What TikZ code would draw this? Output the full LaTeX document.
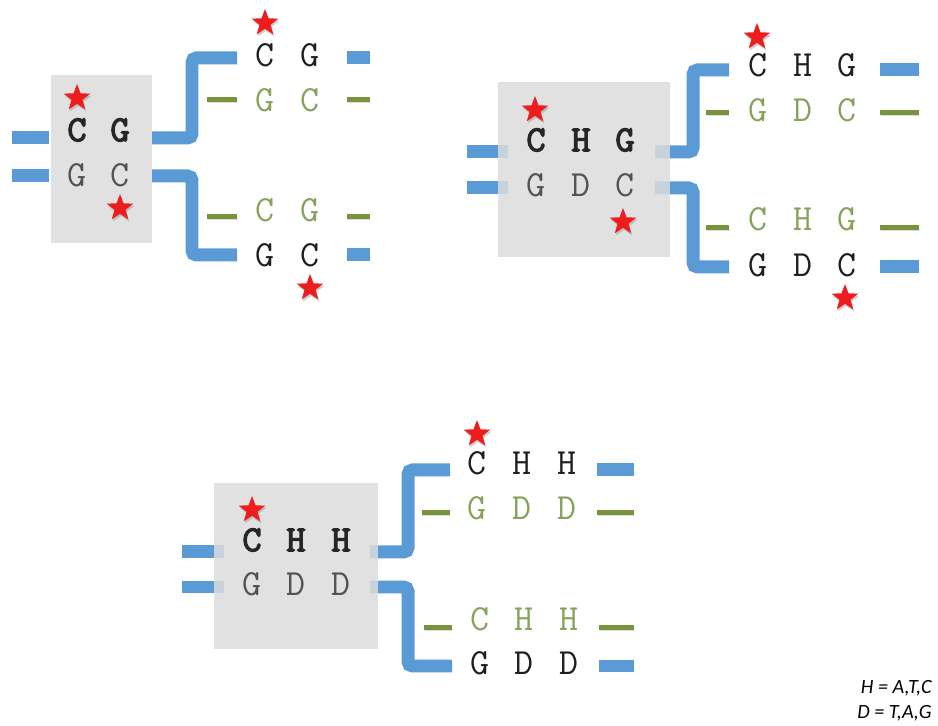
\documentclass[tikz,border=0pt]{standalone}
\usepackage{fontspec}
\newfontfamily\notefont{Carlito}
\newfontfamily\heavymono[FakeBold=3]{lmmono10-regular.otf}
\usepackage{tikz}
\usetikzlibrary{positioning}
\usetikzlibrary{shapes.geometric}
\usetikzlibrary{shadows}

\definecolor{barblue}{HTML}{5B9BD5}
\definecolor{bargreen}{HTML}{77933C}
\definecolor{txtgreen}{HTML}{86A35C}
\definecolor{boxgray}{HTML}{DCDCDC}
\definecolor{starred}{HTML}{EE1C1C}

\tikzset{
	base/.style={font=\ttfamily\fontsize{21}{21}\selectfont, text=black!88, inner sep=0pt},
	bold/.style={base, font=\heavymono\fontsize{21}{21}\selectfont, text=black!85},
	dim/.style={base, text=black!68},
	grn/.style={base, text=txtgreen},
	bluebar/.style={draw=barblue, line width=0.26cm, preaction={draw=black!14, transform canvas={shift={(0.4pt,-1.4pt)}}}},
	greenbar/.style={draw=bargreen, line width=0.1cm, preaction={draw=black!14, transform canvas={shift={(0.4pt,-1.2pt)}}}},
	graybox/.style={fill=boxgray, fill opacity=0.85, draw=none, inner sep=0pt},
	mark star/.style={star, star points=5, star point ratio=2.4, fill=starred, draw=none, minimum size=0.56cm, inner sep=0pt, drop shadow={shadow xshift=0.6pt, shadow yshift=-1.2pt, fill=black!40, opacity=0.5}},
	note/.style={font=\notefont\itshape\fontsize{11.5}{13}\selectfont, inner sep=0pt, anchor=east}
}

\begin{document}
\begin{tikzpicture}[x=0.02cm, y=-0.02cm]
				\useasboundingbox (0,0) rectangle (938,726);

				% CG
				\coordinate (p1l1) at (12,138);   \coordinate (p1l1e) at (49,138);
				\coordinate (p1l2) at (12,176);   \coordinate (p1l2e) at (49,176);
				\coordinate (p1r1) at (152,138);  \coordinate (p1k1) at (192,98);   \coordinate (p1e1) at (237,58);
				\coordinate (p1r2) at (152,176);  \coordinate (p1k2) at (192,215);  \coordinate (p1e2) at (237,255);
				\draw[bluebar] (p1l1) -- (p1l1e);
				\draw[bluebar] (p1l2) -- (p1l2e);
				\draw[bluebar, rounded corners=2.5pt] (p1r1) -| (p1k1) |- (p1e1);
				\draw[bluebar, rounded corners=2.5pt] (p1r2) -| (p1k2) |- (p1e2);
				\node[graybox, minimum width=2.02cm, minimum height=3.36cm] (box1) at (101.5,159) {};

				\node[bold] (p1a1) at (77,130) {C};
				\node[bold] (p1a2) at (120,130) {G};
				\node[dim] (p1b1) at (77,175) {G};
				\node[dim] (p1b2) at (120,175) {C};
				\node[base] (p1t1) at (265,55) {C};
				\node[base] (p1t2) at (310,55) {G};
				\node[grn] (p1g1) at (265,100) {G};
				\node[grn] (p1g2) at (310,100) {C};
				\node[grn] (p1h1) at (265,210) {C};
				\node[grn] (p1h2) at (310,210) {G};
				\node[base] (p1u1) at (265,255) {G};
				\node[base] (p1u2) at (310,255) {C};

				\node[mark star] (p1s1) at (77,98) {};
				\node[mark star] (p1s2) at (120,208) {};
				\node[mark star] (p1s3) at (265,23) {};
				\node[mark star] (p1s4) at (310,288) {};

				\coordinate (p1x1) at (347,58);   \coordinate (p1y1) at (370,58);
				\coordinate (p1x2) at (347,255);  \coordinate (p1y2) at (370,255);
				\coordinate (p1x3) at (347,100);  \coordinate (p1y3) at (370,100);
				\coordinate (p1x4) at (347,217);  \coordinate (p1y4) at (370,217);
				\coordinate (p1w3) at (207,100);  \coordinate (p1v3) at (237,100);
				\coordinate (p1w4) at (207,217);  \coordinate (p1v4) at (237,217);
				\draw[bluebar] (p1x1) -- (p1y1);
				\draw[bluebar] (p1x2) -- (p1y2);
				\draw[greenbar] (p1x3) -- (p1y3);
				\draw[greenbar] (p1x4) -- (p1y4);
				\draw[greenbar] (p1w3) -- (p1v3);
				\draw[greenbar] (p1w4) -- (p1v4);

				% CHG
				\coordinate (p2l1) at (467,152);  \coordinate (p2l1e) at (508,152);
				\coordinate (p2l2) at (467,188);  \coordinate (p2l2e) at (508,188);
				\coordinate (p2r1) at (655,152);  \coordinate (p2k1) at (693,110);  \coordinate (p2e1) at (729,70);
				\coordinate (p2r2) at (655,188);  \coordinate (p2k2) at (693,228);  \coordinate (p2e2) at (729,267);
				\draw[bluebar] (p2l1) -- (p2l1e);
				\draw[bluebar] (p2l2) -- (p2l2e);
				\draw[bluebar, rounded corners=2.5pt] (p2r1) -| (p2k1) |- (p2e1);
				\draw[bluebar, rounded corners=2.5pt] (p2r2) -| (p2k2) |- (p2e2);
				\node[graybox, minimum width=3.44cm, minimum height=3.5cm] (box2) at (584,169.5) {};

				\node[bold] (p2a1) at (536,140) {C};
				\node[bold] (p2a2) at (581,140) {H};
				\node[bold] (p2a3) at (625,140) {G};
				\node[dim] (p2b1) at (536,185) {G};
				\node[dim] (p2b2) at (581,185) {D};
				\node[dim] (p2b3) at (625,185) {C};
				\node[base] (p2t1) at (758,65) {C};
				\node[base] (p2t2) at (803,65) {H};
				\node[base] (p2t3) at (847,65) {G};
				\node[grn] (p2g1) at (758,110) {G};
				\node[grn] (p2g2) at (803,110) {D};
				\node[grn] (p2g3) at (847,110) {C};
				\node[grn] (p2h1) at (758,219) {C};
				\node[grn] (p2h2) at (803,219) {H};
				\node[grn] (p2h3) at (847,219) {G};
				\node[base] (p2u1) at (758,265) {G};
				\node[base] (p2u2) at (803,265) {D};
				\node[base] (p2u3) at (847,265) {C};

				\node[mark star] (p2s1) at (535,110) {};
				\node[mark star] (p2s2) at (623,222) {};
				\node[mark star] (p2s3) at (757,37) {};
				\node[mark star] (p2s4) at (845,298) {};

				\coordinate (p2x1) at (880,70);   \coordinate (p2y1) at (919,70);
				\coordinate (p2x2) at (880,267);  \coordinate (p2y2) at (919,267);
				\coordinate (p2x3) at (880,113);  \coordinate (p2y3) at (919,113);
				\coordinate (p2x4) at (880,228);  \coordinate (p2y4) at (919,228);
				\coordinate (p2w3) at (706,113);  \coordinate (p2v3) at (729,113);
				\coordinate (p2w4) at (706,228);  \coordinate (p2v4) at (729,228);
				\draw[bluebar] (p2x1) -- (p2y1);
				\draw[bluebar] (p2x2) -- (p2y2);
				\draw[greenbar] (p2x3) -- (p2y3);
				\draw[greenbar] (p2x4) -- (p2y4);
				\draw[greenbar] (p2w3) -- (p2v3);
				\draw[greenbar] (p2w4) -- (p2v4);

				% CHH
				\coordinate (p3l1) at (182,552);  \coordinate (p3l1e) at (224,552);
				\coordinate (p3l2) at (182,587);  \coordinate (p3l2e) at (224,587);
				\coordinate (p3r1) at (370,552);  \coordinate (p3k1) at (408,510);  \coordinate (p3e1) at (450,470);
				\coordinate (p3r2) at (370,587);  \coordinate (p3k2) at (408,628);  \coordinate (p3e2) at (452,666);
				\draw[bluebar] (p3l1) -- (p3l1e);
				\draw[bluebar] (p3l2) -- (p3l2e);
				\draw[bluebar, rounded corners=2.5pt] (p3r1) -| (p3k1) |- (p3e1);
				\draw[bluebar, rounded corners=2.5pt] (p3r2) -| (p3k2) |- (p3e2);
				\node[graybox, minimum width=3.28cm, minimum height=3.32cm] (box3) at (296,566) {};

				\node[bold] (p3a1) at (252,540) {C};
				\node[bold] (p3a2) at (296,540) {H};
				\node[bold] (p3a3) at (341,540) {H};
				\node[dim] (p3b1) at (252,584) {G};
				\node[dim] (p3b2) at (296,584) {D};
				\node[dim] (p3b3) at (341,584) {D};
				\node[base] (p3t1) at (477,463) {C};
				\node[base] (p3t2) at (522,463) {H};
				\node[base] (p3t3) at (567,463) {H};
				\node[grn] (p3g1) at (477,508) {G};
				\node[grn] (p3g2) at (522,508) {D};
				\node[grn] (p3g3) at (567,508) {D};
				\node[grn] (p3h1) at (480,619) {C};
				\node[grn] (p3h2) at (524,619) {H};
				\node[grn] (p3h3) at (569,619) {H};
				\node[base] (p3u1) at (480,663) {G};
				\node[base] (p3u2) at (524,663) {D};
				\node[base] (p3u3) at (569,663) {D};

				\node[mark star] (p3s1) at (252,510) {};
				\node[mark star] (p3s2) at (477,434) {};

				\coordinate (p3x1) at (597,470);  \coordinate (p3y1) at (634,470);
				\coordinate (p3x2) at (599,666);  \coordinate (p3y2) at (634,666);
				\coordinate (p3x3) at (597,513);  \coordinate (p3y3) at (634,513);
				\coordinate (p3x4) at (599,628);  \coordinate (p3y4) at (634,628);
				\coordinate (p3w3) at (422,513);  \coordinate (p3v3) at (450,513);
				\coordinate (p3w4) at (424,628);  \coordinate (p3v4) at (452,628);
				\draw[bluebar] (p3x1) -- (p3y1);
				\draw[bluebar] (p3x2) -- (p3y2);
				\draw[greenbar] (p3x3) -- (p3y3);
				\draw[greenbar] (p3x4) -- (p3y4);
				\draw[greenbar] (p3w3) -- (p3v3);
				\draw[greenbar] (p3w4) -- (p3v4);

				\node[note] (keyH) at (932,688) {H = A,T,C};
				\node[note] (keyD) at (932,713) {D = T,A,G};
			\end{tikzpicture}
\end{document}
